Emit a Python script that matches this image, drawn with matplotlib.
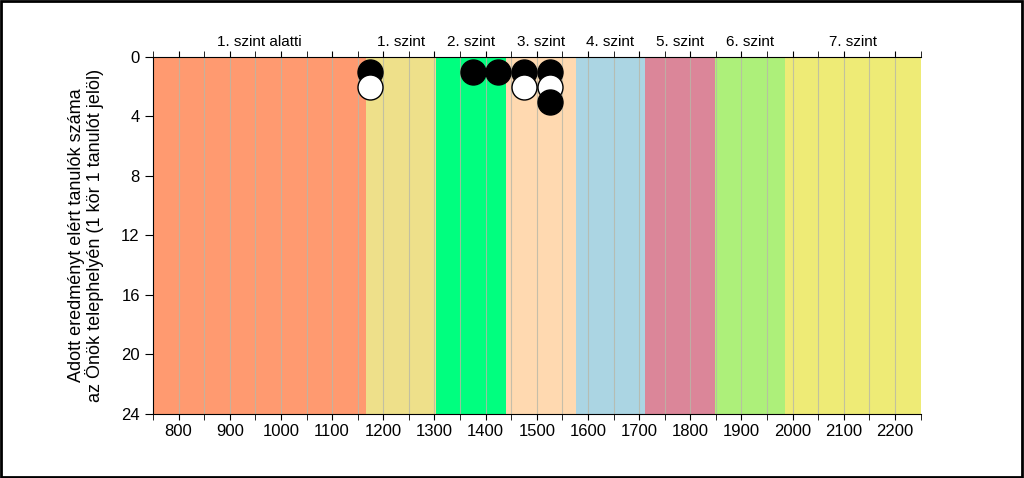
import matplotlib
matplotlib.use("Agg")
import matplotlib.pyplot as plt
from matplotlib.patches import Rectangle

plt.rcParams["font.family"] = ["Liberation Sans", "DejaVu Sans"]

# level bands (score limits) and colours
band_edges = [750, 1167, 1303, 1439, 1576, 1712, 1848, 1985, 2250]
band_labels = ["1. szint alatti", "1. szint", "2. szint", "3. szint",
               "4. szint", "5. szint", "6. szint", "7. szint"]
band_colors = ["#FF9A70", "#EEE08A", "#00FF7F", "#FFD9B0",
               "#ABD5E3", "#DB8699", "#ADF07A", "#EEEB76"]

# students: score, position in stack, fill
dot_x = [1175, 1175, 1375, 1425, 1475, 1475, 1525, 1525, 1525]
dot_y = [1, 2, 1, 1, 1, 2, 1, 2, 3]
dot_fill = ["black", "white", "black", "black", "black", "white", "black", "white", "black"]

fig = plt.figure(figsize=(10.24, 4.78), dpi=100)
ax = fig.add_axes([0.1494, 0.1339, 0.7496, 0.7469])

for i in range(len(band_labels)):
    ax.axvspan(band_edges[i], band_edges[i + 1], color=band_colors[i], lw=0, zorder=0)
    mid = (band_edges[i] + band_edges[i + 1]) / 2
    ax.text(mid, 1.022, band_labels[i], transform=ax.get_xaxis_transform(),
            ha="center", va="bottom", fontsize=11)

for g in range(800, 2250, 50):
    ax.axvline(g, color="#b8b8a8", lw=0.8, alpha=0.8, zorder=1)

for x, y, c in zip(dot_x, dot_y, dot_fill):
    ax.plot(x, y, "o", ms=18, mfc=c, mec="black", mew=1, zorder=3, clip_on=False)

ax.set_xlim(750, 2250)
ax.set_ylim(24, 0)
ax.set_xticks(range(800, 2250, 100))
ax.set_xticks(range(750, 2251, 50), minor=True)
ax.set_yticks(range(0, 25, 4))
ax.tick_params(axis="both", which="both", direction="out", labelsize=12)
ax.tick_params(axis="x", which="minor", length=4, top=True)
ax.tick_params(axis="x", which="major", length=4, top=True)
ax.tick_params(axis="y", length=6)
ax.spines["right"].set_visible(False)
ax.set_ylabel("Adott eredményt elért tanulók száma\naz Önök telephelyén (1 kör 1 tanulót jelöl)",
              fontsize=13, labelpad=12, linespacing=1.0)

fig.patches.append(Rectangle((0.001, 0.002), 0.997, 0.995, transform=fig.transFigure,
                             fill=False, ec="black", lw=2))

fig.savefig("out.png", dpi=100)
